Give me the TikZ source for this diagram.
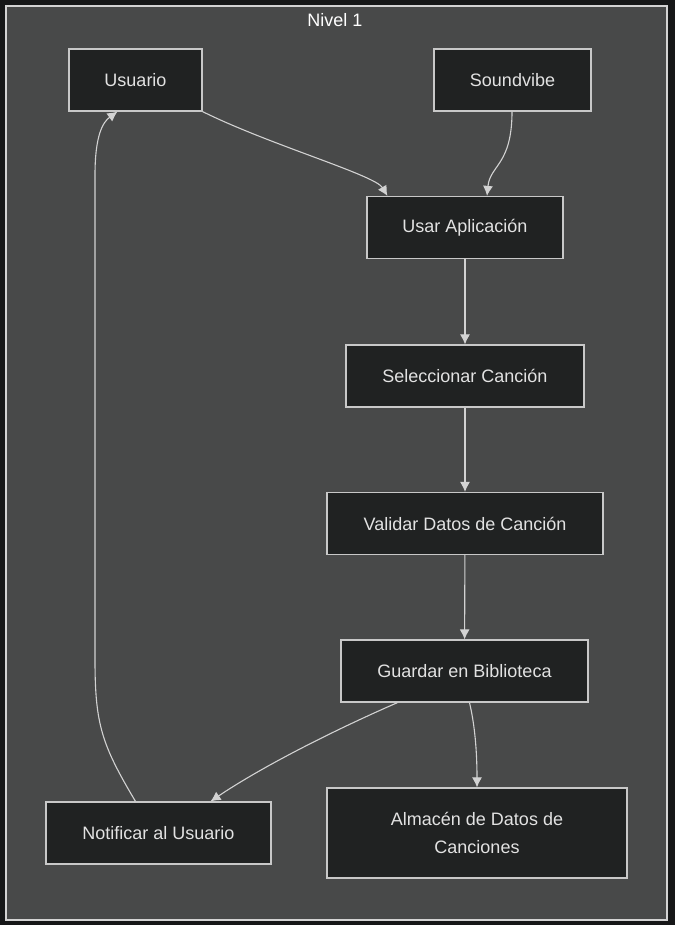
\documentclass[tikz,border=0pt]{standalone}
\usepackage{fontspec}
\setmainfont{Liberation Sans}
\usetikzlibrary{arrows.meta}
\definecolor{bgout}{HTML}{161718}
\definecolor{bgframe}{HTML}{484949}
\definecolor{boxfill}{HTML}{202222}
\definecolor{boxline}{HTML}{C8C8C8}
\definecolor{txtcol}{HTML}{E2E2E2}
\definecolor{wirecol}{HTML}{D2D2D2}
\begin{document}
\begin{tikzpicture}[x=1pt,y=-1pt,
  box/.style={draw=boxline, fill=boxfill, text=txtcol, line width=1.2pt, minimum height=62pt, inner sep=0pt, align=center, font=\fontsize{18}{28}\selectfont},
  wire/.style={->, >={Latex[length=10pt,width=10pt]}, color=wirecol, line width=1.1pt}]
\useasboundingbox (0,0) rectangle (675,925);
\fill[bgout] (0,0) rectangle (675,925);
\draw[fill=bgframe, draw=boxline!80, line width=1.5pt] (6,6) rectangle (667,920);
\node[text=white, font=\fontsize{18}{20}\selectfont] at (335,20) (lvl) {Nivel 1};
\node[box, minimum width=133pt] at (135.5,80) (usr) {Usuario};
\node[box, minimum width=157pt] at (512.5,80) (sv) {Soundvibe};
\node[box, minimum width=196pt] at (465,227.5) (app) {Usar Aplicación};
\node[box, minimum width=238pt] at (465,376) (sel) {Seleccionar Canción};
\node[box, minimum width=276pt] at (465,523.5) (val) {Validar Datos de Canción};
\node[box, minimum width=247pt] at (464.5,671) (save) {Guardar en Biblioteca};
\node[box, minimum width=225pt] at (158.5,833) (notif) {Notificar al Usuario};
\node[box, minimum width=300pt, minimum height=90pt] at (477,833) (store) {Almacén de Datos de\\Canciones};
% flujo
\draw[wire] (usr.south east) .. controls (270,145) and (375,175) .. ([xshift=21pt]app.north west);
\draw[wire] ([xshift=-0.5pt]sv.south) .. controls (512,165) and (490,165) .. ([xshift=22pt]app.north);
\path[wire] (app) edge (sel);
\path[wire] (sel) edge (val);
\path[wire] (val) edge (save);
\draw[wire] ([xshift=-67pt]save.south) .. controls (330,732) and (260,768) .. ([xshift=52pt]notif.north);
\draw[wire] ([xshift=5pt]save.south) .. controls (476,730) and (477,760) .. (store.north);
\draw[wire] ([xshift=-23pt]notif.north) .. controls (102,745) and (95,725) .. (95,660) -- (95,175) .. controls (95,135) and (103,122) .. ([xshift=-18pt]usr.south);
\end{tikzpicture}
\end{document}
